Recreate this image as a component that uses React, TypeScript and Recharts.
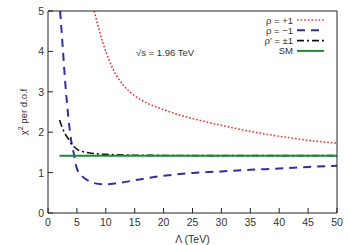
import React from "react";
import { LineChart, Line, XAxis, YAxis } from "recharts";

// Λ (TeV) values and χ² per d.o.f
const rhoPlusLambda = [8, 9, 10, 11, 12, 13, 14, 15, 17, 20, 22, 25, 30, 35, 40, 45, 50];
const rhoPlusChi = [5.0, 4.45, 4.0, 3.64, 3.37, 3.17, 3.02, 2.9, 2.73, 2.56, 2.46, 2.34, 2.17, 2.02, 1.9, 1.8, 1.73];

const rhoMinusLambda = [2.1, 2.5, 3, 3.5, 4, 4.5, 4.8, 5, 6, 7, 8, 10, 12, 15, 17, 20, 25, 30, 35, 40, 45, 50];
const rhoMinusChi = [5.0, 4.2, 3.2, 2.4, 1.8, 1.45, 1.2, 1.1, 0.9, 0.8, 0.74, 0.71, 0.74, 0.81, 0.86, 0.92, 0.99, 1.03, 1.07, 1.1, 1.14, 1.17];

const rhoPrimeLambda = [2, 2.5, 3, 3.5, 4, 4.5, 5, 6, 7, 8, 10, 12, 15, 20, 30, 50];
const rhoPrimeChi = [2.3, 2.1, 1.95, 1.84, 1.72, 1.64, 1.58, 1.52, 1.49, 1.47, 1.45, 1.44, 1.43, 1.425, 1.42, 1.42];

const smLambda = [2, 50];
const smChi = [1.42, 1.42];

const xTicks = [0, 5, 10, 15, 20, 25, 30, 35, 40, 45, 50];
const yTicks = [0, 1, 2, 3, 4, 5];

const toPoints = (xs: number[], ys: number[]) => xs.map((x, i) => ({ x, y: ys[i] }));

const series = [
  { name: "ρ = +1", color: "#f03030", dash: "1.6 2", width: 1.6, data: toPoints(rhoPlusLambda, rhoPlusChi) },
  { name: "ρ = −1", color: "#2f2f9e", dash: "8 6", width: 2, data: toPoints(rhoMinusLambda, rhoMinusChi) },
  { name: "ρ′ = ±1", color: "#111", dash: "7 3 2 3", width: 1.6, data: toPoints(rhoPrimeLambda, rhoPrimeChi) },
  { name: "SM", color: "#1a8a3e", dash: undefined, width: 2, data: toPoints(smLambda, smChi) },
];

const FONT = "'Liberation Sans', Arial, sans-serif";

const BottomTick = ({ x, y, payload }: any) => (
  <g>
    <line x1={x} x2={x} y1={y} y2={y - 5} stroke="#222" />
    <text x={x} y={y + 13} textAnchor="middle" fontSize={10.5} fill="#333" fontFamily={FONT}>
      {payload.value}
    </text>
  </g>
);

const LeftTick = ({ x, y, payload }: any) => (
  <g>
    <line x1={x} x2={x + 5} y1={y} y2={y} stroke="#222" />
    <text x={x - 4} y={y + 4} textAnchor="end" fontSize={10.5} fill="#333" fontFamily={FONT}>
      {payload.value}
    </text>
  </g>
);

const TopTick = ({ x, y }: any) => <line x1={x} x2={x} y1={y} y2={y + 5} stroke="#222" />;
const RightTick = ({ x, y }: any) => <line x1={x} x2={x - 5} y1={y} y2={y} stroke="#222" />;

export default function App() {
  return (
    <div style={{ position: "absolute", left: 0, top: 0, width: 349, height: 245, background: "#fff" }}>
      <LineChart width={349} height={245} margin={{ top: 0, right: 0, bottom: 0, left: 0 }}>
        <XAxis
          xAxisId="b"
          type="number"
          dataKey="x"
          domain={[0, 50]}
          ticks={xTicks}
          allowDataOverflow
          height={32}
          tickSize={0}
          tickMargin={0}
          tickLine={false}
          tick={<BottomTick />}
          stroke="#222"
          label={{ value: "Λ (TeV)", position: "insideBottom", offset: 2, fontSize: 10.5, fill: "#333", fontFamily: FONT }}
        />
        <XAxis
          xAxisId="t"
          orientation="top"
          type="number"
          dataKey="x"
          domain={[0, 50]}
          ticks={xTicks}
          height={11}
          tickSize={0}
          tickMargin={0}
          tickLine={false}
          tick={<TopTick />}
          stroke="#222"
        />
        <YAxis
          yAxisId="l"
          type="number"
          domain={[0, 5]}
          ticks={yTicks}
          allowDataOverflow
          width={48}
          tickSize={0}
          tickMargin={0}
          tickLine={false}
          tick={<LeftTick />}
          stroke="#222"
        />
        <YAxis
          yAxisId="r"
          orientation="right"
          type="number"
          domain={[0, 5]}
          ticks={yTicks}
          width={12}
          tickSize={0}
          tickMargin={0}
          tickLine={false}
          tick={<RightTick />}
          stroke="#222"
        />
        {series.map((s) => (
          <Line
            key={s.name}
            xAxisId="b"
            yAxisId="l"
            data={s.data}
            dataKey="y"
            name={s.name}
            type="monotone"
            stroke={s.color}
            strokeWidth={s.width}
            strokeDasharray={s.dash}
            dot={false}
            isAnimationActive={false}
          />
        ))}
        <g transform="translate(249, 16)">
          {series.map((s, i) => (
            <g key={s.name}>
              <text x={44} y={7.5 + i * 10.3} textAnchor="end" fontSize={9.5} fill="#333" fontFamily={FONT}>
                {s.name}
              </text>
              <line x1={48} x2={75} y1={4 + i * 10.3} y2={4 + i * 10.3} stroke={s.color} strokeWidth={s.width} strokeDasharray={s.dash} />
            </g>
          ))}
        </g>
        <text x={165} y={56} textAnchor="middle" fontSize={9.5} fill="#333" fontFamily={FONT}>
          √s = 1.96 TeV
        </text>
        <text
          x={27}
          y={112}
          textAnchor="middle"
          fontSize={9.5}
          fill="#333"
          fontFamily={FONT}
          transform="rotate(-90 27 112)"
        >
          χ<tspan dy={-4} fontSize={7}>2</tspan>
          <tspan dy={4}> per d.o.f</tspan>
        </text>
      </LineChart>
    </div>
  );
}
